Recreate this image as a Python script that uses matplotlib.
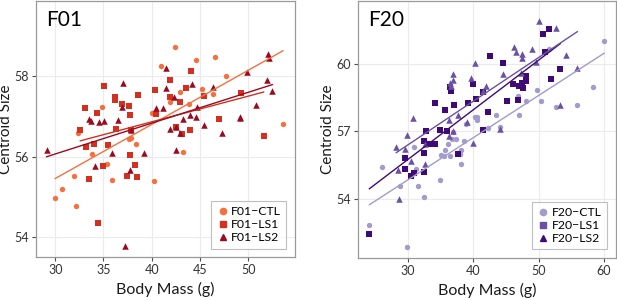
import numpy as np
import matplotlib.pyplot as plt

plt.rcParams["font.family"] = ["Lato", "DejaVu Sans"]

# F01 panel
f01_ctl_mass = [32.4, 30.0, 30.7, 31.9, 32.1, 33.8, 34.8, 35.4, 35.9, 37.6, 37.9, 38.4, 40.2,
                40.0, 41.0, 41.9, 42.4, 42.9, 43.2, 43.9, 44.6, 45.2, 46.3, 46.6, 47.7, 53.6]
f01_ctl_size = [56.59, 54.99, 55.21, 55.53, 54.78, 56.06, 57.23, 55.82, 55.43, 56.44, 56.46, 56.31, 55.41,
                57.1, 58.26, 57.36, 58.74, 57.61, 56.11, 57.31, 58.42, 57.68, 57.56, 58.49, 58.0, 56.82]

f01_ls1_mass = [32.6, 33.1, 33.2, 33.5, 34.0, 34.3, 34.4, 35.1, 35.0, 35.5, 36.2, 36.2, 36.3, 36.9,
                37.4, 37.6, 37.7, 37.7, 37.8, 38.3, 38.5, 38.6, 40.3, 40.4, 41.9, 41.9, 42.9, 42.5,
                43.1, 43.6, 44.0, 44.1, 45.4, 47.0, 49.3, 51.6]
f01_ls1_size = [56.68, 57.22, 56.24, 55.44, 56.32, 57.08, 54.36, 57.75, 55.78, 56.29, 57.48, 57.42, 56.69, 57.32,
                55.52, 57.27, 57.04, 56.04, 56.67, 55.81, 55.5, 57.55, 57.66, 57.07, 57.91, 57.48, 57.36, 56.74,
                56.57, 57.71, 56.66, 58.14, 57.52, 56.94, 57.6, 56.52]

f01_ls2_mass = [29.1, 33.5, 33.7, 34.1, 34.5, 35.1, 35.9, 36.5, 37.0, 36.9, 37.2, 37.7, 37.8, 39.2,
                40.4, 41.2, 41.5, 41.5, 41.9, 42.3, 42.5, 42.5, 42.9, 43.2, 44.0, 44.2, 44.6, 44.7,
                45.4, 46.4, 47.3, 49.1, 49.2, 49.9, 50.8, 51.9, 52.1, 52.2, 52.5]
f01_ls2_size = [56.18, 56.93, 56.9, 55.77, 56.86, 56.9, 56.1, 56.92, 57.83, 57.25, 53.79, 55.67, 56.67, 56.09,
                57.21, 57.21, 58.22, 57.71, 56.7, 57.5, 56.18, 56.74, 56.59, 56.93, 57.03, 57.82, 57.0, 57.23,
                56.8, 57.74, 56.59, 56.97, 57.0, 58.12, 57.28, 57.92, 58.57, 58.47, 57.65]

# F20 panel
f20_ctl_mass = [24.1, 26.0, 28.8, 29.8, 30.9, 31.2, 31.5, 32.5, 34.9, 35.0, 35.5, 35.6, 36.1, 36.4,
                36.7, 36.9, 37.4, 37.9, 38.1, 38.1, 38.6, 38.9, 40.2, 40.6, 40.6, 41.4, 42.3, 43.4,
                44.1, 46.8, 47.0, 48.0, 49.7, 50.4, 51.5, 52.7, 55.9, 58.3, 60.0]
f20_ctl_size = [52.84, 55.42, 54.59, 51.89, 56.3, 55.31, 54.59, 54.1, 54.84, 55.95, 55.9, 56.19, 56.45, 55.89,
                56.67, 56.95, 56.68, 55.98, 55.57, 56.19, 56.55, 57.33, 57.62, 57.65, 57.5, 57.12, 57.14, 57.74,
                57.21, 58.58, 57.71, 58.33, 58.84, 58.33, 60.65, 58.09, 58.15, 58.97, 61.0]

f20_ls1_mass = [24.1, 29.5, 29.6, 30.5, 30.9, 32.4, 32.5, 32.5, 32.8, 33.2, 34.2, 34.1, 34.9, 35.6,
                35.9, 36.5, 36.6, 37.0, 37.7, 39.2, 39.9, 40.4, 41.5, 41.5, 42.2, 42.6, 44.5, 45.1,
                46.0, 46.8, 47.0, 47.6, 47.4, 48.0, 48.0, 50.6, 51.0, 51.6, 51.8, 53.3]
f20_ls1_size = [52.46, 55.83, 55.31, 55.01, 55.17, 56.55, 56.04, 55.2, 57.0, 56.45, 58.24, 56.42, 57.07, 57.96,
                57.0, 58.97, 58.8, 58.18, 56.01, 58.24, 59.09, 58.42, 57.07, 58.75, 57.84, 60.32, 60.04, 58.33,
                59.09, 58.4, 59.02, 58.9, 59.16, 59.46, 59.21, 61.29, 60.53, 61.55, 59.3, 59.75]

f20_ls2_mass = [28.2, 28.6, 28.5, 29.5, 29.9, 30.5, 30.8, 32.6, 32.6, 36.3, 36.3, 36.4, 36.6, 36.9,
                36.9, 36.9, 37.6, 39.1, 39.7, 40.0, 40.3, 42.0, 41.4, 44.0, 44.5, 46.2, 46.5, 47.5,
                47.5, 47.3, 49.0, 49.6, 50.1, 52.6, 53.2, 54.2, 55.9]
f20_ls2_size = [56.3, 53.99, 55.28, 56.2, 56.85, 55.69, 57.59, 55.57, 56.42, 57.48, 56.77, 59.13, 59.0, 59.52,
                59.27, 57.0, 57.7, 57.4, 59.35, 56.48, 60.01, 59.0, 58.8, 57.08, 59.52, 60.73, 60.51, 60.44,
                60.23, 59.56, 60.66, 60.07, 61.88, 61.58, 58.18, 60.4, 59.82]

f01_colors = ["#F4713F", "#D3301F", "#9B0A1E"]
f20_colors = ["#A29BCB", "#3F0A78", "#6A51A3"]
f20_legend_colors = ["#A29BCB", "#6A51A3", "#3F0A78"]
markers = ["o", "s", "^"]
sizes = [15, 15, 22]


def panel(ax, groups, labels, colors, legend_colors, title, xlim, ylim, xticks, yticks):
    for (mass, size), c, m, s in zip(groups, colors, markers, sizes):
        mass = np.array(mass)
        size = np.array(size)
        ax.scatter(mass, size, color=c, marker=m, s=s, linewidths=0, zorder=3)
        k, b = np.polyfit(mass, size, 1)
        xs = np.array([mass.min(), mass.max()])
        ax.plot(xs, k * xs + b, color=c, lw=1.0, zorder=4)
    handles = [plt.Line2D([], [], ls="none", marker=m, color=c, markersize=4.5)
               for m, c in zip(markers, legend_colors)]
    leg = ax.legend(handles, labels, loc="lower right", fontsize=8.8, frameon=True,
                    fancybox=False, edgecolor="#b0b0b0", borderaxespad=0.7,
                    handletextpad=0.2, handlelength=1.0, labelspacing=0.15, borderpad=0.45)
    leg.get_frame().set_linewidth(0.8)
    ax.set_xlim(*xlim)
    ax.set_ylim(*ylim)
    ax.set_xticks(xticks)
    ax.set_yticks(yticks)
    ax.grid(True, color="#ebebeb", lw=0.8, zorder=0)
    ax.set_axisbelow(True)
    for sp in ax.spines.values():
        sp.set_color("#9a9a9a")
        sp.set_linewidth(0.9)
    ax.tick_params(colors="#4d4d4d", labelcolor="#333333", labelsize=9, length=3, width=0.8, pad=2)
    ax.set_xlabel("Body Mass (g)", fontsize=11.5, color="#1a1a1a", labelpad=4)
    ax.set_ylabel("Centroid Size", fontsize=11, color="#1a1a1a", labelpad=1)
    ax.text(0.04, 0.965, title, transform=ax.transAxes, fontsize=15, va="top", ha="left")


fig = plt.figure(figsize=(6.17, 3.0), dpi=100)
ax1 = fig.add_axes([0.0583, 0.143, 0.4198, 0.853])
ax2 = fig.add_axes([0.5802, 0.140, 0.418, 0.856])

panel(ax1,
      [(f01_ctl_mass, f01_ctl_size), (f01_ls1_mass, f01_ls1_size), (f01_ls2_mass, f01_ls2_size)],
      ["F01\u2212CTL", "F01\u2212LS1", "F01\u2212LS2"], f01_colors, f01_colors, "F01",
      (28.0, 54.85), (53.51, 59.87), [30, 35, 40, 45, 50], [54, 56, 58])
panel(ax2,
      [(f20_ctl_mass, f20_ctl_size), (f20_ls1_mass, f20_ls1_size), (f20_ls2_mass, f20_ls2_size)],
      ["F20\u2212CTL", "F20\u2212LS1", "F20\u2212LS2"], f20_colors, f20_legend_colors, "F20",
      (22.35, 61.8), (51.39, 62.76), [30, 40, 50, 60], [54, 57, 60])

fig.savefig("out.png", dpi=100)
